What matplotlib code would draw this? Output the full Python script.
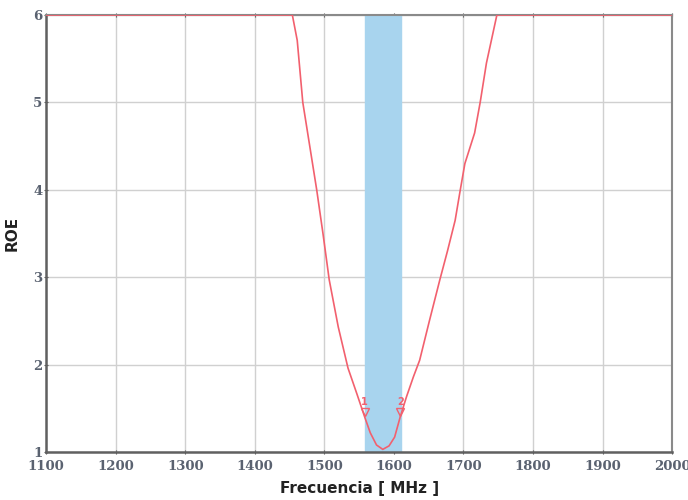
import matplotlib.pyplot as plt
import numpy as np

freq = [1100, 1454, 1461, 1469, 1479, 1489, 1498, 1507, 1520, 1534, 1547,
        1558, 1566, 1575, 1584, 1593, 1601, 1609, 1618, 1628, 1637, 1651,
        1666, 1677, 1688, 1695, 1702, 1716, 1724, 1733, 1748, 2000]
roe = [6, 6, 5.71, 5.0, 4.5, 4.0, 3.5, 2.97, 2.43, 1.96, 1.66,
       1.40, 1.22, 1.08, 1.03, 1.07, 1.17, 1.40, 1.63, 1.86, 2.05, 2.5,
       2.97, 3.3, 3.65, 3.98, 4.30, 4.65, 5.0, 5.45, 6, 6]
band = [1559, 1610]
marker_f = [1558, 1609]
marker_v = [1.40, 1.40]
marker_lbl = ['1', '2']

red = '#f2606e'

fig = plt.figure(figsize=(6.88, 5), dpi=100)
ax = fig.add_axes([0.067, 0.096, 0.91, 0.874])

ax.axvspan(band[0], band[1], color='#a8d4ee', zorder=1)
ax.plot(freq, roe, color=red, lw=1.2, zorder=3)
ax.plot(marker_f, [v + 0.06 for v in marker_v], linestyle='none', marker='v', ms=6,
        mfc='none', mec=red, mew=1, zorder=4)
for f, v, t in zip(marker_f, marker_v, marker_lbl):
    ax.text(f, v + 0.12, t, color=red, fontsize=7, fontweight='bold',
            ha='center', va='bottom', zorder=4)

ax.set_xlim(1100, 2000)
ax.set_ylim(1, 6)
ax.set_xticks(np.arange(1100, 2001, 100))
ax.set_yticks([1, 2, 3, 4, 5, 6])
ax.grid(True, color='#d0d0d0', lw=1, zorder=0)
ax.set_axisbelow(True)

for lbl in ax.get_xticklabels() + ax.get_yticklabels():
    lbl.set_family('DejaVu Serif')
    lbl.set_fontweight('bold')
    lbl.set_color('#5a6270')
ax.tick_params(axis='both', labelsize=9.5, length=3, color='#555555', pad=1,
               direction='inout', top=True)
ax.tick_params(axis='x', pad=4)

for s in ['left', 'bottom']:
    ax.spines[s].set_color('#606060')
    ax.spines[s].set_linewidth(1.8)
for s in ['top', 'right']:
    ax.spines[s].set_color('#8a8a8a')
    ax.spines[s].set_linewidth(1.5)

ax.set_xlabel('Frecuencia [ MHz ]', fontsize=11, fontweight='bold', color='#222222', labelpad=6)
ax.set_ylabel('ROE', fontsize=11, fontweight='bold', color='#222222', labelpad=10)

plt.savefig('out.png')
